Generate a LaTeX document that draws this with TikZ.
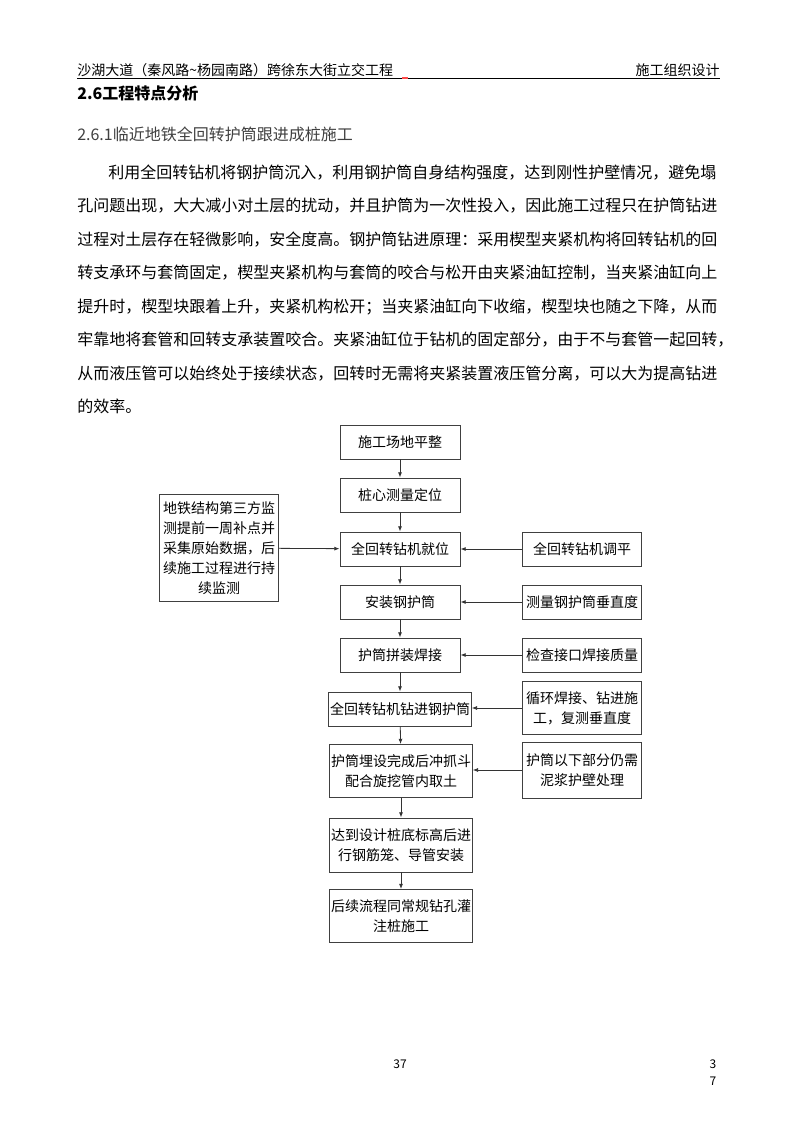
\documentclass[tikz,border=0pt]{standalone}
\usepackage{fontspec}
\setmainfont{Noto Sans CJK SC}
\newfontfamily\boldcjk[BoldFont={* Bold}]{Noto Sans CJK SC}
\usetikzlibrary{arrows.meta}
\begin{document}
\begin{tikzpicture}[x=0.75pt,y=-0.75pt,
  box/.style={draw=black!75,line width=0.6pt,align=center,font=\fontsize{10.5pt}{15pt}\selectfont,inner sep=1pt},
  arr/.style={-{Latex[length=4pt,width=3pt]},line width=0.6pt,draw=black!80},
  bl/.style={anchor=base west,inner sep=0pt,font=\fontsize{12pt}{12pt}\selectfont}]
\useasboundingbox[fill=white] (0,0) rectangle (800,1132);
% header
\node[anchor=base west,inner sep=0pt,font=\fontsize{10.5pt}{12pt}\selectfont] (h1) at (77,75) {沙湖大道（秦风路\textasciitilde 杨园南路）跨徐东大街立交工程};
\node[anchor=base east,inner sep=0pt,font=\fontsize{10.5pt}{12pt}\selectfont] (h2) at (720,75) {施工组织设计};
\draw[line width=0.6pt] (77,78) -- (720,78);
\draw[red!70,line width=0.8pt] (402,78) -- (408,78);
\node[anchor=base west,inner sep=0pt,font=\fontsize{12pt}{12pt}\bfseries\selectfont] (t1) at (77,99) {2.6工程特点分析};
\node[anchor=base west,inner sep=0pt,font=\fontsize{12pt}{12pt}\selectfont,text=black!75] (t2) at (77,140) {2.6.1临近地铁全回转护筒跟进成桩施工};
% body
\node[bl] (p1) at (108,178) {利用全回转钻机将钢护筒沉入，利用钢护筒自身结构强度，达到刚性护壁情况，避免塌};
\node[bl] (p2) at (77,211) {孔问题出现，大大减小对土层的扰动，并且护筒为一次性投入，因此施工过程只在护筒钻进};
\node[bl] (p3) at (77,245) {过程对土层存在轻微影响，安全度高。钢护筒钻进原理：采用楔型夹紧机构将回转钻机的回};
\node[bl] (p4) at (77,278) {转支承环与套筒固定，楔型夹紧机构与套筒的咬合与松开由夹紧油缸控制，当夹紧油缸向上};
\node[bl] (p5) at (77,312) {提升时，楔型块跟着上升，夹紧机构松开；当夹紧油缸向下收缩，楔型块也随之下降，从而};
\node[bl] (p6) at (77,345) {牢靠地将套管和回转支承装置咬合。夹紧油缸位于钻机的固定部分，由于不与套管一起回转，};
\node[bl] (p7) at (77,379) {从而液压管可以始终处于接续状态，回转时无需将夹紧装置液压管分离，可以大为提高钻进};
\node[bl] (p8) at (77,412) {的效率。};
% flowchart
\node[box,minimum width=120*0.75pt,minimum height=34*0.75pt] (b1) at (400,442) {施工场地平整};
\node[box,minimum width=120*0.75pt,minimum height=34*0.75pt] (b2) at (400,495) {桩心测量定位};
\node[box,minimum width=120*0.75pt,minimum height=34*0.75pt] (b3) at (400,549) {全回转钻机就位};
\node[box,minimum width=120*0.75pt,minimum height=34*0.75pt] (b4) at (400,602) {安装钢护筒};
\node[box,minimum width=120*0.75pt,minimum height=34*0.75pt] (b5) at (400,655) {护筒拼装焊接};
\node[box,minimum width=140*0.75pt,minimum height=34*0.75pt] (b6) at (400,709) {全回转钻机钻进钢护筒};
\node[box,minimum width=140*0.75pt,minimum height=53*0.75pt] (b7) at (401,771) {护筒埋设完成后冲抓斗\\配合旋挖管内取土};
\node[box,minimum width=140*0.75pt,minimum height=54*0.75pt] (b8) at (401,845) {达到设计桩底标高后进\\行钢筋笼、导管安装};
\node[box,minimum width=140*0.75pt,minimum height=53*0.75pt] (b9) at (401,916) {后续流程同常规钻孔灌\\注桩施工};
\node[box,minimum width=119*0.75pt,minimum height=107*0.75pt] (l1) at (219,548) {地铁结构第三方监\\测提前一周补点并\\采集原始数据，后\\续施工过程进行持\\续监测};
\node[box,minimum width=119*0.75pt,minimum height=34*0.75pt] (r1) at (582,549) {全回转钻机调平};
\node[box,minimum width=119*0.75pt,minimum height=34*0.75pt] (r2) at (582,602) {测量钢护筒垂直度};
\node[box,minimum width=119*0.75pt,minimum height=34*0.75pt] (r3) at (582,655) {检查接口焊接质量};
\node[box,minimum width=119*0.75pt,minimum height=53*0.75pt] (r4) at (582,708) {循环焊接、钻进施\\工，复测垂直度};
\node[box,minimum width=119*0.75pt,minimum height=56*0.75pt] (r5) at (582,770) {护筒以下部分仍需\\泥浆护壁处理};
\foreach \a/\b in {b1/b2,b2/b3,b3/b4,b4/b5,b5/b6,b6/b7,b7/b8,b8/b9} \draw[arr] (\a) -- (\b);
\draw[arr] (l1) -- (b3);
\foreach \a/\b in {r1/b3,r2/b4,r3/b5,r4/b6,r5/b7} \draw[arr] (\a.west) -- (\b.east |- \a.west);
% page numbers
\node[anchor=base,inner sep=0pt,font=\fontsize{9pt}{9pt}\selectfont] (pn) at (400,1068) {37};
\node[anchor=base,inner sep=0pt,font=\fontsize{9pt}{9pt}\selectfont] (pa) at (713,1068) {3};
\node[anchor=base,inner sep=0pt,font=\fontsize{9pt}{9pt}\selectfont] (pb) at (713,1085) {7};
\end{tikzpicture}
\end{document}
